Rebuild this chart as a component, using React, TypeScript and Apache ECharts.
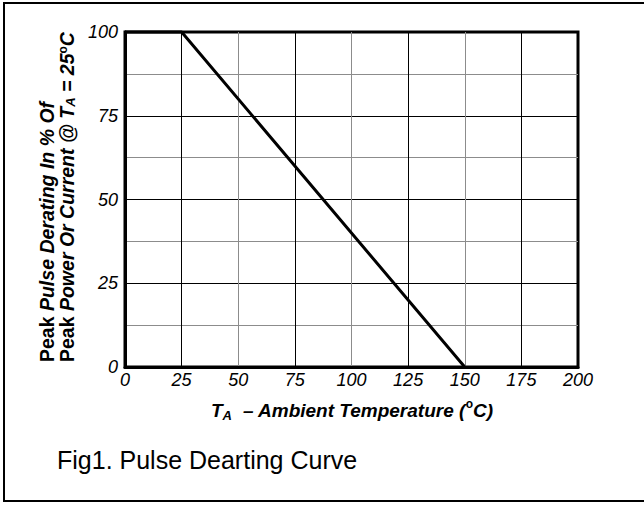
import React, { useEffect, useRef } from "react";
import * as echarts from "echarts";

const tempValues = [0, 25, 150];
const deratingValues = [100, 100, 0];
const yLabelTicks = [0, 25, 50, 75, 100];
const xAxisTitle = "T|A|  – Ambient Temperature (|o|C)";
const yTitleLine1 = ["Peak", " Pulse Derating In % Of"];
const yTitleLine2 = ["Peak", " Power Or Current @ T", "A", " = 25", "o", "C"];
const caption = "Fig1. Pulse Dearting Curve";

const FONT = '"Liberation Sans", Arial, sans-serif';

export default function App() {
  const ref = useRef<HTMLDivElement>(null);
  useEffect(() => {
    if (!ref.current) return;
    const chart = echarts.init(ref.current, undefined, { renderer: "svg" });
    const seriesData = tempValues.map((t, i) => [t, deratingValues[i]]);
    const mkRich = (fs: number, lh: number) => ({
      n: { fontSize: fs, fontWeight: "bold", fontFamily: FONT, color: "#000", lineHeight: lh },
      b: { fontSize: fs, fontWeight: "bold", fontStyle: "italic", fontFamily: FONT, color: "#000", lineHeight: lh },
      sub: { fontSize: 13, fontWeight: "bold", fontStyle: "italic", fontFamily: FONT, color: "#000", verticalAlign: "bottom", lineHeight: lh },
      sup: { fontSize: 12, fontWeight: "bold", fontFamily: FONT, color: "#000", verticalAlign: "top", lineHeight: lh },
    });
    const yTitleText =
      "{n|" + yTitleLine1[0] + "}{b|" + yTitleLine1[1] + "}\n" +
      "{n|" + yTitleLine2[0] + "}{b|" + yTitleLine2[1] + "}{sub|" + yTitleLine2[2] + "}{b|" +
      yTitleLine2[3] + "}{sup|" + yTitleLine2[4] + "}{b|" + yTitleLine2[5] + "}";
    const p = xAxisTitle.split("|");
    const xTitleText = "{b|" + p[0] + "}{sub|" + p[1] + "}{b|" + p[2] + "}{sup|" + p[3] + "}{b|" + p[4] + "}";
    chart.setOption({
      animation: false,
      backgroundColor: "#fff",
      grid: {
        left: 125,
        right: 66,
        top: 32,
        bottom: 138,
        show: true,
        borderColor: "#000",
        borderWidth: 3,
        backgroundColor: "transparent",
      },
      xAxis: {
        type: "value",
        min: 0,
        max: 200,
        interval: 25,
        axisLine: { show: true, lineStyle: { color: "#000", width: 3 } },
        axisTick: { show: false },
        axisLabel: {
          color: "#000",
          fontSize: 18,
          fontStyle: "italic",
          fontFamily: FONT,
          margin: 4,
        },
        splitLine: {
          show: true,
          showMinLine: false,
          showMaxLine: false,
          lineStyle: { color: ["#000", "#8c8c8c"], width: 1 },
        },
      },
      yAxis: {
        type: "value",
        min: 0,
        max: 100,
        interval: 12.5,
        axisLine: { show: true, lineStyle: { color: "#000", width: 3 } },
        axisTick: { show: false },
        axisLabel: {
          color: "#000",
          fontSize: 18,
          fontStyle: "italic",
          fontFamily: FONT,
          margin: 7,
          formatter: (v: number) => (yLabelTicks.includes(v) ? String(v) : ""),
        },
        splitLine: {
          show: true,
          showMinLine: false,
          showMaxLine: false,
          lineStyle: { color: ["#8c8c8c", "#000"], width: 1 },
        },
      },
      series: [
        {
          type: "line",
          data: seriesData,
          symbol: "none",
          clip: false,
          lineStyle: { color: "#000", width: 3 },
        },
      ],
      graphic: [
        {
          type: "rect",
          shape: { x: 4, y: 3, width: 645, height: 498 },
          style: { fill: "none", stroke: "#000", lineWidth: 2 },
          silent: true,
        },
        {
          type: "text",
          x: 57,
          y: 362,
          rotation: Math.PI / 2,
          style: {
            text: yTitleText,
            rich: mkRich(19.5, 20),
            align: "left",
            verticalAlign: "middle",
            fill: "#000",
          },
        },
        {
          type: "text",
          x: 352,
          y: 410,
          style: {
            text: xTitleText,
            rich: mkRich(19, 24),
            align: "center",
            verticalAlign: "middle",
            fill: "#000",
          },
        },
        {
          type: "text",
          x: 57,
          y: 460,
          style: {
            text: caption,
            font: "25px " + FONT,
            fill: "#000",
            align: "left",
            verticalAlign: "middle",
          },
        },
      ],
    });
    return () => chart.dispose();
  }, []);
  return <div ref={ref} style={{ position: "absolute", left: 0, top: 0, width: 644, height: 505 }} />;
}
